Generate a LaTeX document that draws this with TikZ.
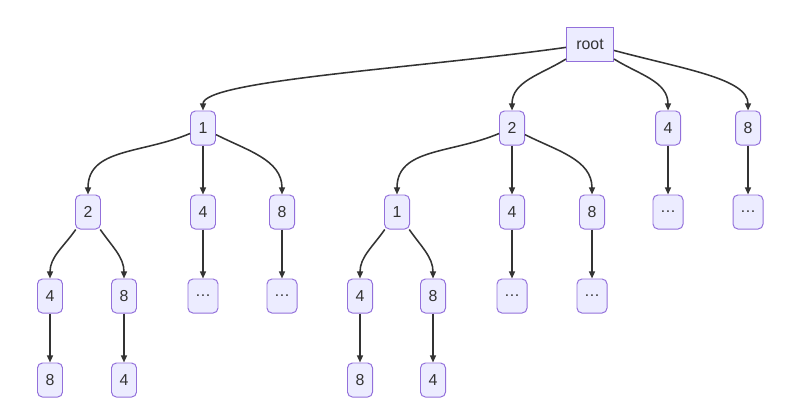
\documentclass[tikz,border=0pt]{standalone}
\usepackage{fontspec}
\setmainfont{Liberation Sans}
\usepackage{xcolor}
\usetikzlibrary{arrows.meta}

\definecolor{boxfill}{HTML}{ECECFF}
\definecolor{boxline}{HTML}{9370DB}
\definecolor{edgeline}{HTML}{333333}

\begin{document}
\begin{tikzpicture}[
    x=0.025cm, y=0.025cm,
    % Styles
    item/.style={
        rectangle,
        rounded corners=3.5pt,
        draw=boxline,
        line width=0.7pt,
        fill=boxfill,
        text=edgeline,
        inner sep=0pt,
        minimum width=#1,
        minimum height=0.85cm,
        font=\fontsize{11.3}{13}\selectfont
    },
    item/.default=0.625cm,
    rootbox/.style={
        item=1.175cm,
        rounded corners=0pt
    },
    edge/.style={
        -{Triangle[length=5pt,width=4.2pt]},
        line width=1.1pt,
        draw=edgeline
    }
]
\useasboundingbox (0,0) rectangle (807,-402);

% Nodes
\node[rootbox] (root) at (590,-44) {root};

\node[item] (n1) at (203,-128) {1};
\node[item] (n2) at (512,-128) {2};
\node[item] (n4) at (668,-128) {4};
\node[item] (n8) at (748,-128) {8};

\node[item] (n12) at (88,-212) {2};
\node[item] (n14) at (203,-212) {4};
\node[item] (n18) at (282,-212) {8};
\node[item] (n21) at (397,-212) {1};
\node[item] (n24) at (512,-212) {4};
\node[item] (n28) at (592,-212) {8};
\node[item=0.75cm] (n4x) at (668,-212) {…};
\node[item=0.75cm] (n8x) at (748,-212) {…};

\node[item] (n124) at (50,-296) {4};
\node[item] (n128) at (124,-296) {8};
\node[item=0.75cm] (n14x) at (203,-296) {…};
\node[item=0.75cm] (n18x) at (282,-296) {…};
\node[item] (n214) at (360,-296) {4};
\node[item] (n218) at (433,-296) {8};
\node[item=0.75cm] (n24x) at (512,-296) {…};
\node[item=0.75cm] (n28x) at (592,-296) {…};

\node[item] (n1248) at (50,-380) {8};
\node[item] (n1284) at (124,-380) {4};
\node[item] (n2148) at (360,-380) {8};
\node[item] (n2184) at (433,-380) {4};

% Edges from root
\draw[edge] (root) to[out=188, in=90, out distance=3.75cm, in distance=0.75cm] (n1);
\draw[edge] (root) to[out=212, in=90] (n2);
\draw[edge] (root) to[out=-32, in=90] (n4);
\draw[edge] (root) to[out=-15, in=90, out distance=1.8cm, in distance=0.8cm] (n8);

% Edges, second level
\draw[edge] (n1) to[out=203, in=90, out distance=1.3cm] (n12);
\draw[edge] (n1) -- (n14);
\draw[edge] (n1) to[out=-27, in=90] (n18);
\draw[edge] (n2) to[out=203, in=90, out distance=1.3cm] (n21);
\draw[edge] (n2) -- (n24);
\draw[edge] (n2) to[out=-27, in=90] (n28);
\draw[edge] (n4) -- (n4x);
\draw[edge] (n8) -- (n8x);

% Edges, third level
\draw[edge] (n12) to[out=235, in=90] (n124);
\draw[edge] (n12) to[out=-55, in=90] (n128);
\draw[edge] (n14) -- (n14x);
\draw[edge] (n18) -- (n18x);
\draw[edge] (n21) to[out=235, in=90] (n214);
\draw[edge] (n21) to[out=-55, in=90] (n218);
\draw[edge] (n24) -- (n24x);
\draw[edge] (n28) -- (n28x);

% Edges, fourth level
\draw[edge] (n124) -- (n1248);
\draw[edge] (n128) -- (n1284);
\draw[edge] (n214) -- (n2148);
\draw[edge] (n218) -- (n2184);

\end{tikzpicture}
\end{document}
